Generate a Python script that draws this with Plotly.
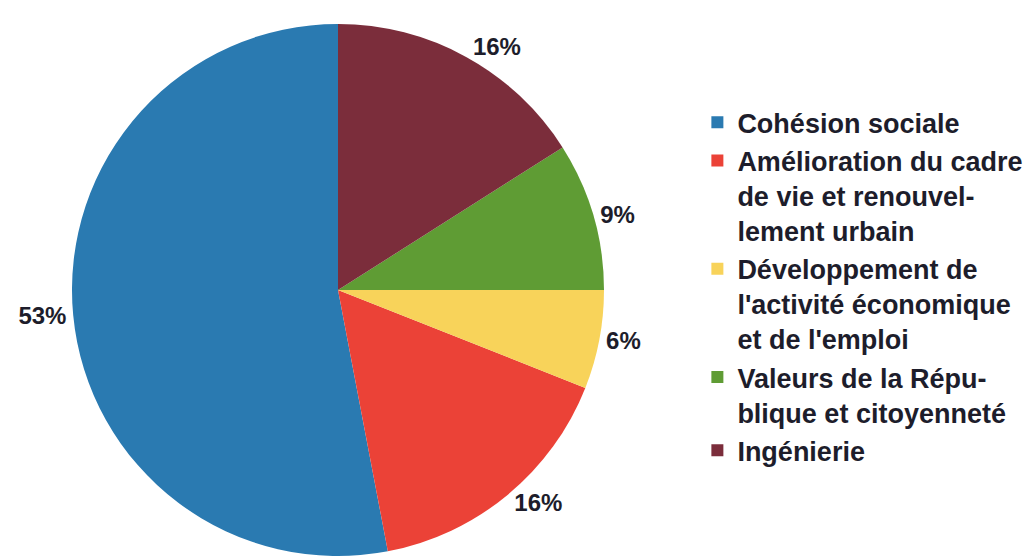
import plotly.graph_objects as go

categories = [
    "Cohésion sociale",
    "Amélioration du cadre<br>de vie et renouvel-<br>lement urbain",
    "Développement de<br>l'activité économique<br>et de l'emploi",
    "Valeurs de la Répu-<br>blique et citoyenneté",
    "Ingénierie",
]
values = [53, 16, 6, 9, 16]
colors = ["#2A7AB1", "#EB4237", "#F8D35A", "#5F9C34", "#7B2D3B"]

# first slice (Cohésion) starts at 12 o'clock and runs counterclockwise
rot = 360 * (1 - values[0] / sum(values))

W, H = 1032, 557
cx, cy, d = 330, 282, 532  # pie centre / diameter in pixels

fig = go.Figure(
    go.Pie(
        labels=categories,
        values=values,
        sort=False,
        direction="counterclockwise",
        rotation=rot,
        marker=dict(colors=colors, line=dict(width=0)),
        textposition="outside",
        texttemplate="%{percent:.0%}",
        textfont=dict(family="Liberation Sans", size=24, color="#1d1d2b", weight="bold"),
        domain=dict(
            x=[(cx - d / 2) / W, (cx + d / 2) / W],
            y=[1 - (cy + d / 2) / H, 1 - (cy - d / 2) / H],
        ),
        showlegend=True,
        hoverinfo="label+percent",
    )
)

fig.update_layout(
    width=W,
    height=H,
    margin=dict(l=0, r=0, t=0, b=0),
    paper_bgcolor="white",
    plot_bgcolor="white",
    legend=dict(
        x=0.668,
        xanchor="left",
        y=0.838,
        yanchor="top",
        valign="top",
        font=dict(family="Liberation Sans", size=27, color="#1d1d2b", weight="bold"),
        itemwidth=30,
        bgcolor="rgba(0,0,0,0)",
    ),
)

fig.write_html("out.html")
